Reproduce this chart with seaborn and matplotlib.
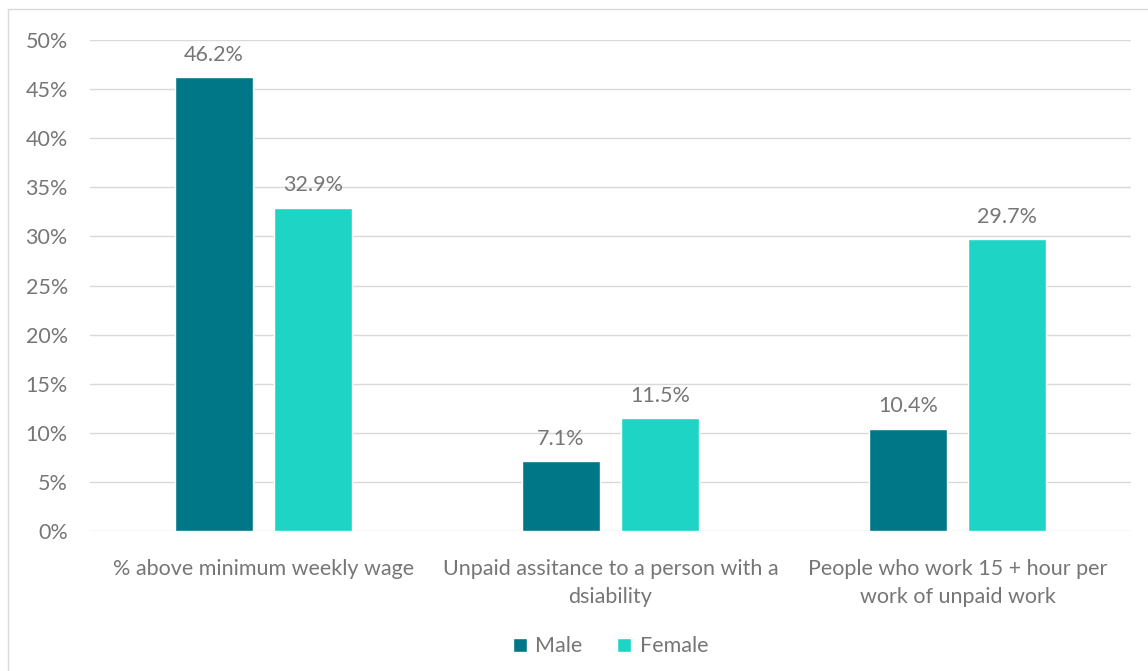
import matplotlib
matplotlib.use("Agg")
import matplotlib.pyplot as plt
import seaborn as sns
import pandas as pd
from matplotlib.patches import Rectangle

categories = ["% above minimum weekly wage",
              "Unpaid assitance to a person with a\ndsiability",
              "People who work 15 + hour per\nwork of unpaid work"]
male = [46.2, 7.1, 10.4]
female = [32.9, 11.5, 29.7]
series = ["Male", "Female"]
colors = {"Male": "#007787", "Female": "#1DD4C5"}

df = pd.DataFrame({
    "category": categories * 2,
    "value": male + female,
    "series": ["Male"] * 3 + ["Female"] * 3,
})

sns.set_theme(style="white")
plt.rcParams['font.family'] = ['Lato', 'DejaVu Sans']
txt = "#767676"
fs = 15.5

fig = plt.figure(figsize=(11.48, 6.71), dpi=100)
ax = fig.add_axes([90/1148, 1 - 531/671, (1131-90)/1148, (531-40)/671])

sns.barplot(data=df, x="category", y="value", hue="series", hue_order=series,
            palette=colors, width=0.57, gap=0.22, ax=ax, saturation=1)

ax.set_ylim(0, 50)
ax.set_xlim(-0.5, 2.5)
ax.set_yticks(range(0, 51, 5))
ax.set_yticklabels([f"{v}%" for v in range(0, 51, 5)], color=txt, fontsize=fs)
ax.tick_params(axis='x', colors=txt, labelsize=fs, pad=20, length=0)
ax.tick_params(axis='y', length=0, pad=16)
for lbl in ax.get_xticklabels():
    lbl.set_linespacing(1.5)
ax.set_xlabel("")
ax.set_ylabel("")
ax.grid(axis='y', color="#d9d9d9", linewidth=1)
ax.set_axisbelow(True)
for s in ax.spines.values():
    s.set_visible(False)

for c in ax.containers:
    ax.bar_label(c, labels=[f"{v:.1f}%" for v in c.datavalues], padding=9,
                 color=txt, fontsize=fs)

leg = ax.legend(loc="upper center", bbox_to_anchor=(0.5, -0.175), ncol=2,
                frameon=False, fontsize=fs, handlelength=0.65, handleheight=0.65,
                columnspacing=1.6, handletextpad=0.4)
for t in leg.get_texts():
    t.set_color(txt)

fig.patches.append(Rectangle((8/1148, -0.1), 1.2, 1 - 9/671 + 0.1,
                             transform=fig.transFigure, fill=False,
                             edgecolor="#d9d9d9", linewidth=1))

fig.savefig("out.png", dpi=100)
